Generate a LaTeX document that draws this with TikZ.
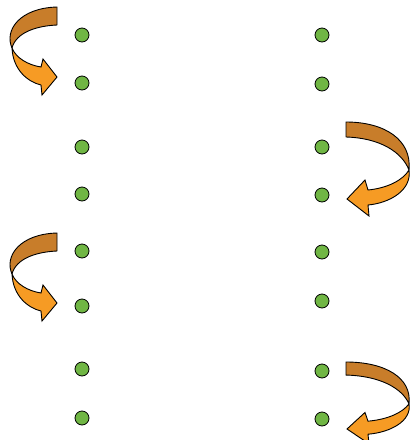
\documentclass[tikz,border=0pt]{standalone}
\begin{document}
\begin{tikzpicture}[x=1pt,y=-1pt,
  dot/.style={circle,draw=black,fill=dotgreen,line width=0.8pt,minimum size=14pt,inner sep=0pt},
  brownpart/.style={draw=black,fill=arrbrown,line width=0.9pt,line join=round},
  orangepart/.style={draw=black,fill=arrorange,line width=0.9pt,line join=miter}]
\definecolor{dotgreen}{RGB}{112,182,68}
\definecolor{arrbrown}{RGB}{200,125,42}
\definecolor{arrorange}{RGB}{246,155,36}
\useasboundingbox (0,0) rectangle (411,440);
\clip (0,0) rectangle (411,440);
% dots
\foreach \n/\y in {1/35,2/83,3/147,4/194,5/251,6/306,7/369,8/418}
  \node[dot] (l\n) at (82,\y) {};
\foreach \n/\y in {1/35,2/84,3/147,4/195,5/252,6/301,7/371,8/419}
  \node[dot] (r\n) at (322,\y) {};
% left arrows
\foreach \dy in {0,226}{
\begin{scope}[yshift=-\dy pt]
  \fill[brownpart] (57,7) -- (57,25) .. controls (35,26) and (16,33) .. (12,48)
     .. controls (4,30) and (20,8) .. cycle;
  \fill[orangepart] (12,48) .. controls (13,70) and (28,82) .. (41,85) -- (42,95) -- (57,77)
     -- (43,59) -- (41,67) .. controls (28,65) and (16,58) .. (12,48) -- cycle;
\end{scope}}
% right arrow upper
\fill[brownpart] (346,122) -- (346,137) .. controls (380,138) and (402,152) .. (409,170)
   .. controls (412,140) and (385,122) .. cycle;
\fill[orangepart] (409,170) .. controls (412,190) and (390,203) .. (368,205) -- (369,216)
   -- (347,199) -- (365,180) -- (368,190) .. controls (388,188) and (403,180) .. (409,170) -- cycle;
% right arrow lower
\begin{scope}[yshift=-362pt, yscale=0.87, yshift=122pt]
\fill[brownpart] (346,122) -- (346,137) .. controls (380,138) and (402,152) .. (409,170)
   .. controls (412,140) and (385,122) .. cycle;
\fill[orangepart] (409,170) .. controls (412,190) and (390,203) .. (368,205) -- (369,216)
   -- (347,199) -- (365,180) -- (368,190) .. controls (388,188) and (403,180) .. (409,170) -- cycle;
\end{scope}
\end{tikzpicture}
\end{document}
